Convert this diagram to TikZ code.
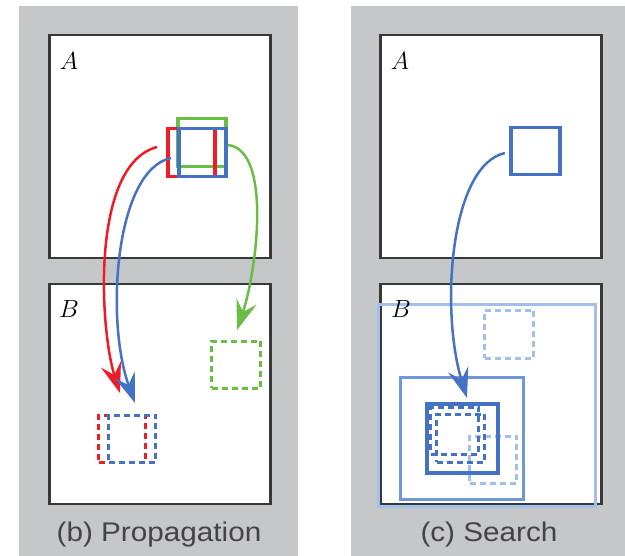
\documentclass[tikz,border=0pt]{standalone}
\usepackage{fontspec}
\newfontfamily\capfont{Liberation Sans}
\usetikzlibrary{arrows.meta}
\definecolor{panelgray}{HTML}{C6C7C9}
\definecolor{framegray}{HTML}{383838}
\definecolor{cred}{HTML}{EE1D25}
\definecolor{cgreen}{HTML}{6ABD45}
\definecolor{cblue}{HTML}{4472C4}
\definecolor{cmid}{HTML}{7097DA}
\definecolor{clight}{HTML}{A3BFEB}
\definecolor{captext}{HTML}{444444}

\begin{document}
\begin{tikzpicture}[x=1pt,y=-1pt,
  panel/.style={fill=panelgray, draw=none},
  imgframe/.style={draw=framegray, line width=2.5pt, fill=white, inner sep=0pt, anchor=north west},
  patch/.style={line width=3.5pt, inner sep=0pt, anchor=north west},
  dpatch/.style={line width=3pt, dash pattern=on 6pt off 4pt, inner sep=0pt, anchor=north west},
  flow/.style={line width=2.5pt, -{Stealth[length=30pt,width=21pt,inset=11pt]}},
  letter/.style={font=\fontsize{32}{32}\selectfont, inner sep=0pt},
  caption/.style={font=\capfont\fontsize{27}{27}\selectfont, text=captext, anchor=base, inner sep=0pt}
]
\useasboundingbox (0,0) rectangle (625,556);

% grey panels
\fill[panelgray] (19,6) rectangle (298,556);
\fill[panelgray] (351,6) rectangle (625,556);

% ---------- (b) Propagation ----------
\node[imgframe, minimum width=221pt, minimum height=223pt] (bA) at (48,34) {};
\node[imgframe, minimum width=221pt, minimum height=220pt] (bB) at (48,283) {};
\node[letter] (bAl) at (69,61) {$A$};
\node[letter] (bBl) at (69,309) {$B$};

% source patches in A
\node[patch, draw=cgreen, minimum width=48pt, minimum height=48pt] (gA) at (176,117) {};
\node[patch, draw=cred,   minimum width=47pt, minimum height=48pt] (rA) at (166,127) {};
\node[patch, draw=cblue,  minimum width=47pt, minimum height=48pt] (uA) at (177,127) {};

% propagated patches in B
\node[dpatch, draw=cgreen, minimum width=49pt, minimum height=47pt] (gB) at (210,340) {};
\node[dpatch, draw=cred,   minimum width=47pt, minimum height=47pt] (rB) at (97,414) {};
\node[dpatch, draw=cblue,  minimum width=47pt, minimum height=47pt] (uB) at (107,414) {};

% arrow ends
\coordinate (rS) at (157,147);
\coordinate (rT) at (120,393);
\coordinate (uS) at (171,158);
\coordinate (uT) at (135,403);
\coordinate (gS) at (228,145);
\coordinate (gT) at (237,330);

\draw[flow, cred]   (rS) .. controls (90,165) and (100,330) .. (rT);
\draw[flow, cblue]  (uS) .. controls (115,170) and (105,320) .. (uT);
\draw[flow, cgreen] (gS) .. controls (272,150) and (257,270) .. (gT);

\node[caption] (capb) at (159,542) {\scalebox{1.1}[1]{(b) Propagation}};

% ---------- (c) Search ----------
\node[imgframe, minimum width=221pt, minimum height=223pt] (cA) at (379,34) {};
\node[imgframe, minimum width=221pt, minimum height=220pt] (cB) at (379,283) {};
\node[letter] (cAl) at (400,61) {$A$};

\node[patch, draw=cblue, minimum width=49pt, minimum height=47pt] (sA) at (509,126) {};

% search windows in B, largest first
\node[patch, draw=clight, line width=3pt, minimum width=217pt, minimum height=202pt] (w1) at (377,303) {};
\node[dpatch, draw=clight, minimum width=49pt, minimum height=48pt] (c1) at (483,309) {};
\node[patch, draw=cmid, line width=3pt, minimum width=123pt, minimum height=122pt] (w2) at (399,376) {};
\node[dpatch, draw=clight, minimum width=47pt, minimum height=47pt] (c2) at (468,435) {};
\node[patch, draw=cblue, line width=4pt, minimum width=71pt, minimum height=69pt] (w3) at (425,402) {};
\node[dpatch, draw=cblue, minimum width=48pt, minimum height=47pt] (c3) at (429,406) {};
\node[dpatch, draw=cblue, minimum width=48pt, minimum height=48pt] (c4) at (435,413) {};
\node[letter] (cBl) at (401,309) {$B$};

\coordinate (sS) at (505,153);
\coordinate (sT) at (467,398);
\draw[flow, cblue] (sS) .. controls (450,165) and (440,310) .. (sT);

\node[caption] (capc) at (489,542) {\scalebox{1.1}[1]{(c) Search}};
\end{tikzpicture}
\end{document}
